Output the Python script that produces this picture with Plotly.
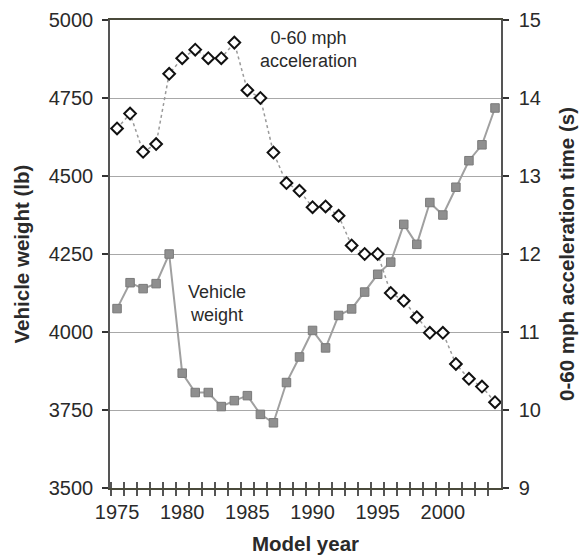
import plotly.graph_objects as go

years = list(range(1975, 2005))
weight_lb = [4075, 4158, 4139, 4155, 4250, 3868, 3806, 3806, 3761, 3780,
             3796, 3736, 3709, 3838, 3920, 4005, 3949, 4053, 4074, 4128,
             4185, 4224, 4345, 4281, 4415, 4375, 4464, 4549, 4600, 4718]
accel_s = [13.61, 13.80, 13.31, 13.41, 14.31, 14.51, 14.62, 14.51, 14.51, 14.71,
           14.10, 14.00, 13.30, 12.91, 12.81, 12.60, 12.61, 12.49, 12.11, 12.00,
           12.00, 11.50, 11.40, 11.19, 10.99, 10.99, 10.59, 10.40, 10.30, 10.10]
x_tick_labels = [1975, 1980, 1985, 1990, 1995, 2000]
left_ticks = [3500, 3750, 4000, 4250, 4500, 4750, 5000]
right_ticks = [9, 10, 11, 12, 13, 14, 15]

FONT = "Liberation Sans, Arial, Helvetica, sans-serif"
TXT = "#2a2a2a"
XR = [1974.46, 2004.46]

fig = go.Figure()
fig.add_trace(go.Scatter(
    x=years, y=weight_lb, mode="lines+markers", name="Vehicle weight",
    line=dict(color="#a0a0a0", width=2),
    marker=dict(symbol="square", size=8.5, color="#8f8f8f",
                line=dict(color="#7a7a7a", width=1)),
    yaxis="y"))
fig.add_trace(go.Scatter(
    x=years, y=accel_s, mode="lines+markers", name="0-60 mph acceleration",
    line=dict(color="#9a9a9a", width=1.5, dash="dot"),
    marker=dict(symbol="diamond", size=9, color="white",
                line=dict(color="#111111", width=2)),
    yaxis="y2"))
# helper trace so the overlaid x axis (inner half of the crossing ticks) is drawn
fig.add_trace(go.Scatter(x=[None], y=[None], xaxis="x2", yaxis="y",
                         showlegend=False, hoverinfo="skip"))

fig.add_annotation(x=1989.7, y=4905, xref="x", yref="y",
                   text="0-60 mph<br>acceleration", showarrow=False,
                   font=dict(family=FONT, size=18, color=TXT), align="center")
fig.add_annotation(x=1982.7, y=4090, xref="x", yref="y",
                   text="Vehicle<br>weight", showarrow=False,
                   font=dict(family=FONT, size=18, color=TXT), align="center")

fig.update_layout(
    width=582, height=555,
    margin=dict(l=110, r=81, t=20, b=67),
    paper_bgcolor="white", plot_bgcolor="white",
    showlegend=False,
    font=dict(family=FONT, size=20, color=TXT),
    xaxis=dict(
        range=XR, automargin=False,
        tickvals=x_tick_labels, ticks="", showgrid=False, zeroline=False,
        showline=True, linecolor="#4a4a3a", linewidth=2, mirror=True,
        tickfont=dict(family=FONT, size=20, color=TXT),
        ticklabelstandoff=5,
        minor=dict(ticks="outside", tick0=1974.5, dtick=1, ticklen=6,
                   tickcolor="#555555", tickwidth=1.5, showgrid=False),
        title=dict(text="<b>Model year</b>", standoff=16,
                   font=dict(family=FONT, size=20.5, color=TXT)),
    ),
    xaxis2=dict(
        range=XR, overlaying="x", anchor="y", side="bottom", automargin=False,
        showticklabels=False, ticks="", showgrid=False, zeroline=False,
        showline=False,
        minor=dict(ticks="inside", tick0=1974.5, dtick=1, ticklen=6,
                   tickcolor="#555555", tickwidth=1.5, showgrid=False),
    ),
    yaxis=dict(
        range=[3500, 5000], tickvals=left_ticks, automargin=False,
        ticks="outside", ticklen=6, tickcolor="#333333", tickwidth=1.5,
        showgrid=True, gridcolor="#a8a8a8", gridwidth=1, zeroline=False,
        showline=True, linecolor="#555555", linewidth=1.5,
        tickfont=dict(family=FONT, size=20, color=TXT),
        ticklabelstandoff=5,
        title=dict(text="<b>Vehicle weight (lb)</b>", standoff=14,
                   font=dict(family=FONT, size=20.5, color=TXT)),
    ),
    yaxis2=dict(
        range=[9, 15], tickvals=right_ticks, overlaying="y", side="right",
        automargin=False,
        ticks="outside", ticklen=6, tickcolor="#333333", tickwidth=1.5,
        showgrid=False, zeroline=False,
        showline=True, linecolor="#555555", linewidth=1.5,
        tickfont=dict(family=FONT, size=20, color=TXT),
        ticklabelstandoff=6,
        title=dict(text="<b>0-60 mph acceleration time (s)</b>", standoff=20,
                   font=dict(family=FONT, size=20.5, color=TXT)),
    ),
)

fig.write_html("out.html")
